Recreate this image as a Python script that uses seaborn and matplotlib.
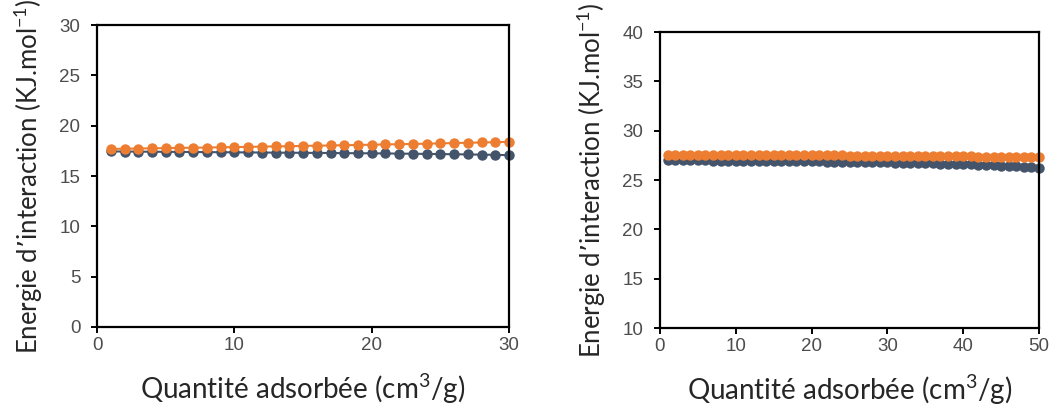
import numpy as np
import pandas as pd
import seaborn as sns
import matplotlib.pyplot as plt

# left panel: 1..30 cm3/g
q_left = list(range(1, 31))
e_left_orange = [17.70, 17.72, 17.74, 17.76, 17.78, 17.80, 17.82, 17.84, 17.86, 17.88,
                 17.90, 17.93, 17.95, 17.97, 18.00, 18.02, 18.04, 18.07, 18.09, 18.12,
                 18.14, 18.17, 18.19, 18.22, 18.25, 18.28, 18.31, 18.34, 18.37, 18.40]
e_left_gray = [17.45, 17.44, 17.43, 17.42, 17.41, 17.40, 17.39, 17.38, 17.37, 17.36,
               17.35, 17.34, 17.33, 17.32, 17.31, 17.30, 17.29, 17.28, 17.27, 17.26,
               17.25, 17.23, 17.22, 17.20, 17.19, 17.17, 17.15, 17.13, 17.11, 17.08]

# right panel: 1..50 cm3/g
q_right = list(range(1, 51))
e_right_orange = [27.55, 27.55, 27.55, 27.55, 27.54, 27.54, 27.54, 27.54, 27.53, 27.53,
                  27.53, 27.53, 27.52, 27.52, 27.52, 27.51, 27.51, 27.51, 27.50, 27.50,
                  27.50, 27.49, 27.49, 27.49, 27.48, 27.48, 27.47, 27.47, 27.46, 27.46,
                  27.45, 27.45, 27.44, 27.44, 27.43, 27.43, 27.42, 27.41, 27.41, 27.40,
                  27.39, 27.38, 27.38, 27.37, 27.36, 27.35, 27.34, 27.33, 27.32, 27.30]
e_right_gray = [27.00, 27.00, 26.99, 26.99, 26.98, 26.98, 26.97, 26.97, 26.96, 26.96,
                26.95, 26.95, 26.94, 26.93, 26.93, 26.92, 26.91, 26.90, 26.90, 26.89,
                26.88, 26.87, 26.86, 26.85, 26.84, 26.83, 26.82, 26.81, 26.80, 26.78,
                26.77, 26.75, 26.74, 26.72, 26.70, 26.69, 26.67, 26.65, 26.63, 26.61,
                26.58, 26.56, 26.53, 26.50, 26.47, 26.44, 26.40, 26.36, 26.31, 26.25]

orange = '#ED7D31'
gray = '#44546A'

sns.set_style('white')
plt.rcParams['font.family'] = ['Lato', 'DejaVu Sans']
plt.rcParams['mathtext.default'] = 'regular'

fig = plt.figure(figsize=(10.57, 4.09), dpi=100)
ax1 = fig.add_axes([0.0918, 0.2005, 0.3898, 0.738])
ax2 = fig.add_axes([0.6244, 0.198, 0.3586, 0.7237])

panels = [
    (ax1, q_left, e_left_gray, e_left_orange, (0, 30), (0, 30), 10, 5),
    (ax2, q_right, e_right_gray, e_right_orange, (0, 50), (10, 40), 10, 5),
]

for ax, q, eg, eo, xl, yl, xstep, ystep in panels:
    df = pd.DataFrame({'q': q, 'gray': eg, 'orange': eo})
    sns.lineplot(data=df, x='q', y='gray', ax=ax, color=gray, marker='o',
                 markersize=7.5, markeredgewidth=0, linewidth=1.5, clip_on=False)
    sns.lineplot(data=df, x='q', y='orange', ax=ax, color=orange, marker='o',
                 markersize=7.5, markeredgewidth=0, linewidth=1.5, clip_on=False)
    ax.set_xlim(*xl)
    ax.set_ylim(*yl)
    ax.set_xticks(np.arange(xl[0], xl[1] + 1, xstep))
    ax.set_yticks(np.arange(yl[0], yl[1] + 1, ystep))
    for s in ax.spines.values():
        s.set_color('black')
        s.set_linewidth(1.6)
    ax.tick_params(axis='both', direction='out', length=4, width=1.4, color='black',
                   labelsize=13.5, labelcolor='#4d4d4d', left=True, bottom=True)
    ax.tick_params(axis='y', pad=8)
    ax.tick_params(axis='x', pad=3)
    for lab in ax.get_xticklabels() + ax.get_yticklabels():
        lab.set_family('Liberation Sans')
    ax.set_xlabel('Quantité adsorbée (cm$^{3}$/g)', fontsize=20, labelpad=13)
    ax.set_ylabel('Energie d\u2019interaction (KJ.mol$^{-1}$)', fontsize=18.5, labelpad=10)

fig.savefig('out.png', dpi=100)
